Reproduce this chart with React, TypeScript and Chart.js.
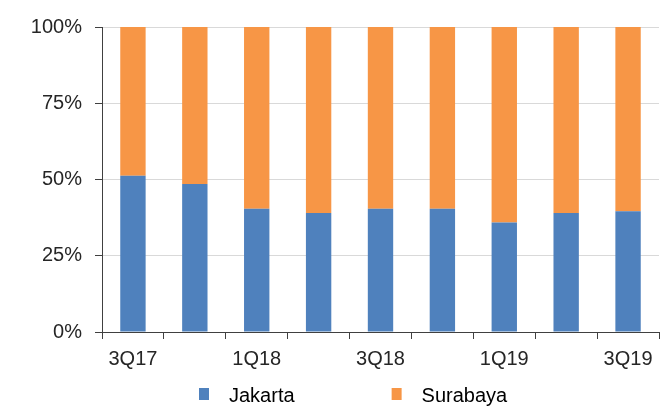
import React, { useEffect, useRef } from "react";
import { Chart, registerables } from "chart.js";

Chart.register(...registerables);

const categories = ["3Q17", "4Q17", "1Q18", "2Q18", "3Q18", "4Q18", "1Q19", "2Q19", "3Q19"];
const shownTicks = ["3Q17", "1Q18", "3Q18", "1Q19", "3Q19"];
const jakarta = [51.2, 48.5, 40.4, 39.0, 40.4, 40.4, 35.9, 39.0, 39.6];
const surabaya = [48.8, 51.5, 59.6, 61.0, 59.6, 59.6, 64.1, 61.0, 60.4];
const seriesNames = ["Jakarta", "Surabaya"];
const seriesColors = ["#4F81BD", "#F79646"];

const FONT = "'Liberation Sans', Arial, sans-serif";
const TEXT = "#262626";
const AXIS = "#404040";

function makeSwatch(color: string): HTMLCanvasElement {
  const c = document.createElement("canvas");
  c.width = 109;
  c.height = 16;
  const ctx = c.getContext("2d");
  if (ctx) {
    ctx.fillStyle = color;
    ctx.fillRect(89, 0, 10, 12);
  }
  return c;
}

export default function App() {
  const ref = useRef<HTMLCanvasElement | null>(null);

  useEffect(() => {
    document.body.style.margin = "0";
    if (!ref.current) return;
    const swatches = seriesColors.map(makeSwatch);
    const chart = new Chart(ref.current, {
      type: "bar",
      data: {
        labels: categories,
        datasets: [
          { label: seriesNames[0], data: jakarta, backgroundColor: seriesColors[0] },
          { label: seriesNames[1], data: surabaya, backgroundColor: seriesColors[1] },
        ],
      },
      options: {
        responsive: false,
        animation: false,
        layout: { padding: { left: 0, right: 2, top: 27, bottom: 0 } },
        datasets: { bar: { categoryPercentage: 1, barPercentage: 0.41 } },
        plugins: {
          tooltip: { enabled: false },
          legend: {
            position: "bottom",
            align: "start",
            fullSize: false,
            maxHeight: 28,
            labels: {
              usePointStyle: true,
              pointStyleWidth: 109,
              boxHeight: 12,
              padding: 8,
              color: TEXT,
              font: { family: FONT, size: 20 },
              generateLabels: (ch: any) =>
                ch.data.datasets.map((ds: any, i: number) => ({
                  text: ds.label,
                  fillStyle: ds.backgroundColor,
                  strokeStyle: ds.backgroundColor,
                  lineWidth: 0,
                  pointStyle: swatches[i],
                  hidden: false,
                  datasetIndex: i,
                })),
            },
          },
        },
        scales: {
          x: {
            stacked: true,
            offset: true,
            grid: {
              display: true,
              drawOnChartArea: false,
              drawTicks: true,
              tickLength: 7,
              color: AXIS,
              tickColor: AXIS,
              offset: true,
            },
            border: { display: true, color: AXIS, width: 1 },
            ticks: {
              autoSkip: false,
              maxRotation: 0,
              minRotation: 0,
              padding: 8,
              color: TEXT,
              font: { family: FONT, size: 20 },
              callback: (_v: any, i: number) => (shownTicks.includes(categories[i]) ? categories[i] : ""),
            },
            afterFit: (s: any) => {
              s.height = 46;
            },
          },
          y: {
            stacked: true,
            min: 0,
            max: 100,
            grid: { color: "#d9d9d9", tickColor: AXIS, tickLength: 7, drawTicks: true },
            border: { display: true, color: AXIS, width: 1 },
            ticks: {
              stepSize: 25,
              padding: 13,
              color: TEXT,
              font: { family: FONT, size: 20 },
              callback: (v: any) => v + "%",
            },
            afterFit: (s: any) => {
              s.width = 102;
            },
          },
        },
      },
    } as any);
    return () => chart.destroy();
  }, []);

  return (
    <div style={{ width: 661, height: 406, position: "relative" }}>
      <canvas ref={ref} width={661} height={406} />
    </div>
  );
}
